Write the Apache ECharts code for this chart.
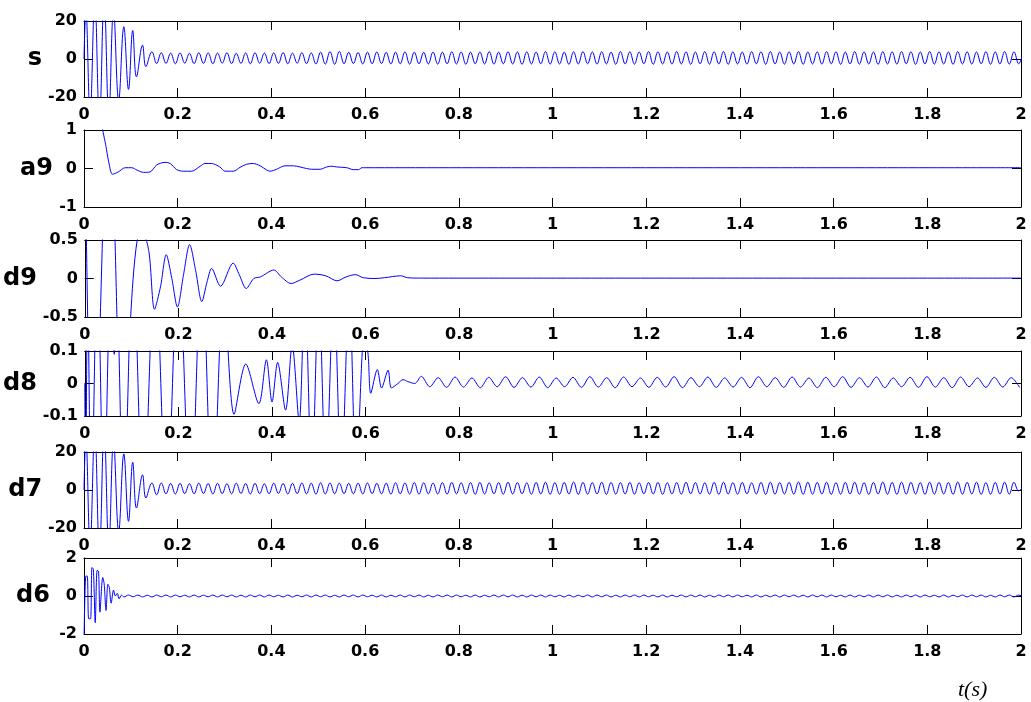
<!DOCTYPE html>
<html>
<head>
<meta charset="utf-8">
<script src="https://cdn.jsdelivr.net/npm/echarts@6/dist/echarts.min.js"></script>
<style>
  html, body { margin: 0; padding: 0; background: #fff; }
  #chart { width: 1031px; height: 702px; }
</style>
</head>
<body>
<div id="chart"></div>
<script>
// Signal s and its wavelet decomposition (approximation a9, details d9..d6), t in seconds.
const panelNames = ['s', 'a9', 'd9', 'd8', 'd7', 'd6'];
const yRanges = [[-20, 20, 20], [-1, 1, 1], [-0.5, 0.5, 0.5], [-0.1, 0.1, 0.1], [-20, 20, 20], [-2, 2, 2]];
const xTicks = [0, 0.2, 0.4, 0.6, 0.8, 1, 1.2, 1.4, 1.6, 1.8, 2];

// s: start-up transient as [t, value] turning points
const sHead = [[0, 0], [0.004, 26], [0.013, -30], [0.023, 32], [0.033, -34], [0.043, 33], [0.053, -30],
  [0.063, 26], [0.074, -22], [0.085, 17], [0.095, -16], [0.104, 15], [0.112, -9.4], [0.125, 7.3],
  [0.132, -4.0], [0.145, 3.8]];
// s: steady 50 Hz turning points, one every 0.01 s from 0.155 s
const sTailStart = 0.155, tailStep = 0.01;
const sTail = [
  -2.4, 3.3, -2.3, 3.1, -2.5, 3.2, -2.2, 3.0, -2.4, 3.3, -2.3, 3.2, -2.5, 3.1, -2.2, 3.3, -2.4, 3.0, -2.3, 3.2,
  -2.5, 3.3, -2.2, 3.1, -2.4, 3.2, -2.3, 3.4, -2.5, 3.1, -2.2, 3.3, -2.4, 3.2, -2.6, 3.6, -2.7, 3.9, -2.8, 4.0,
  -2.5, 3.5, -2.4, 3.4, -2.6, 3.6, -2.5, 3.7, -2.4, 3.5, -2.6, 3.6, -2.5, 3.8, -2.7, 3.6, -2.5, 3.5, -2.6, 3.7,
  -2.7, 3.6, -2.5, 3.8, -2.6, 3.7, -2.8, 3.6, -2.5, 3.7, -2.6, 3.9, -2.7, 3.6, -2.5, 3.8, -2.6, 3.7, -2.8, 3.8,
  -2.6, 3.7, -2.5, 3.9, -2.7, 3.8, -2.6, 3.6, -2.8, 3.8, -2.6, 3.9, -2.5, 3.7, -2.7, 3.8, -2.6, 3.6, -2.8, 3.9,
  -2.6, 3.8, -2.7, 3.7, -2.5, 3.9, -2.8, 3.8, -2.6, 3.7, -2.7, 3.9, -2.6, 3.8, -2.8, 3.7, -2.5, 3.9, -2.7, 3.8,
  -2.6, 3.9, -2.8, 3.8, -2.6, 3.7, -2.7, 3.9, -2.5, 3.8, -2.8, 3.9, -2.6, 3.7, -2.7, 3.8, -2.6, 3.9, -2.8, 3.7,
  -2.6, 3.8, -2.7, 3.9, -2.5, 3.8, -2.8, 3.7, -2.6, 3.9, -2.7, 3.8, -2.6, 3.7, -2.8, 3.9, -2.6, 3.8, -2.7, 3.9,
  -2.5, 3.8, -2.8, 3.7, -2.6, 3.9, -2.7, 3.8, -2.6, 3.7, -2.8, 3.9, -2.6, 3.8, -2.7, 3.7, -2.5, 3.9, -2.8, 3.8,
  -2.6, 3.9, -2.7, 3.8, -2.5, 3.7
];

// a9: approximation, [t, value]
const a9Points = [[0.039, 1.05], [0.047, 0.57], [0.052, 0.22], [0.061, -0.15], [0.073, -0.09], [0.088, 0.02],
  [0.102, 0.02], [0.113, -0.04], [0.127, -0.10], [0.141, -0.09], [0.155, 0.09], [0.173, 0.16], [0.184, 0.13],
  [0.198, -0.03], [0.212, -0.07], [0.230, -0.07], [0.248, 0.06], [0.258, 0.13], [0.272, 0.13], [0.290, 0.04],
  [0.301, -0.07], [0.319, -0.07], [0.333, 0.03], [0.347, 0.11], [0.361, 0.13], [0.376, 0.07], [0.390, -0.04],
  [0.397, -0.07], [0.411, -0.02], [0.429, 0.07], [0.447, 0.07], [0.461, 0.04], [0.475, 0.0], [0.486, -0.02],
  [0.504, -0.02], [0.518, 0.04], [0.529, 0.06], [0.539, 0.04], [0.561, 0.02], [0.575, -0.03], [0.586, -0.03],
  [0.593, 0.02], [0.600, 0.02], [2.0, 0.02]];

// d9: detail level 9, [t, value]
const d9Points = [[0, 2], [0.018, -3], [0.052, 2.5], [0.082, -2.5], [0.098, -0.5], [0.112, 0.5], [0.125, 0.56],
  [0.137, 0.35], [0.149, -0.40], [0.162, -0.10], [0.174, 0.31], [0.186, 0.0], [0.198, -0.37], [0.211, 0.05],
  [0.224, 0.44], [0.237, 0.10], [0.250, -0.30], [0.261, -0.05], [0.271, 0.13], [0.290, -0.10], [0.317, 0.20],
  [0.330, 0.05], [0.345, -0.13], [0.361, 0.0], [0.375, 0.02], [0.404, 0.11], [0.420, 0.02], [0.441, -0.065],
  [0.460, -0.02], [0.490, 0.057], [0.515, 0.035], [0.539, -0.03], [0.558, 0.02], [0.578, 0.05], [0.595, 0.01],
  [0.620, 0.0], [0.640, 0.01], [0.675, 0.035], [0.690, 0.01], [0.720, 0.005], [2.0, 0.005]];

// d8: detail level 8, transient as [t, value]
const d8Head = [[0, 0], [0.002, -0.3], [0.006, 0.3], [0.014, -0.4], [0.027, 0.4], [0.041, -0.4], [0.055, 0.3],
  [0.063, 0.09], [0.068, 0.3], [0.083, -0.4], [0.103, 0.4], [0.125, -0.4], [0.150, 0.4], [0.175, -0.4],
  [0.200, 0.4], [0.226, -0.4], [0.250, 0.4], [0.273, -0.4], [0.297, 0.3], [0.319, -0.095], [0.344, 0.06],
  [0.372, -0.062], [0.388, 0.073], [0.400, -0.057], [0.412, 0.065], [0.429, -0.082], [0.443, 0.12],
  [0.458, -0.12], [0.470, 0.3], [0.485, -0.3], [0.500, 0.3], [0.515, -0.3], [0.532, 0.3], [0.548, -0.3],
  [0.565, 0.3], [0.580, -0.3], [0.597, 0.15], [0.605, 0.093], [0.611, -0.03], [0.625, 0.043], [0.634, -0.014],
  [0.648, 0.041], [0.655, -0.014], [0.669, 0.0], [0.680, 0.012], [0.690, 0.006], [0.705, 0.0]];
// d8: steady ripple turning points every 0.018 s from 0.719 s
const d8TailStart = 0.719, d8Step = 0.018;
const d8Tail = [
  0.022, -0.010, 0.018, -0.012, 0.020, -0.011, 0.017, -0.013, 0.019, -0.010, 0.021, -0.012, 0.018, -0.011,
  0.020, -0.013, 0.017, -0.010, 0.019, -0.012, 0.021, -0.011, 0.018, -0.013, 0.020, -0.010, 0.017, -0.012,
  0.019, -0.011, 0.021, -0.013, 0.018, -0.010, 0.020, -0.012, 0.017, -0.011, 0.019, -0.013, 0.021, -0.010,
  0.018, -0.012, 0.020, -0.011, 0.017, -0.013, 0.019, -0.010, 0.021, -0.012, 0.018, -0.011, 0.020, -0.013,
  0.017, -0.010, 0.019, -0.012, 0.021, -0.011, 0.018, -0.013, 0.020, -0.010, 0.017, -0.012, 0.019, -0.011,
  0.018, -0.012
];

// d7: detail level 7, transient then steady 50 Hz turning points from 0.155 s
const d7Head = [[0, 0], [0.004, 28], [0.013, -30], [0.023, 32], [0.033, -34], [0.043, 33], [0.053, -30],
  [0.063, 26], [0.074, -22], [0.085, 19], [0.095, -16.5], [0.104, 14.6], [0.112, -9.5], [0.125, 8.0],
  [0.132, -4.2], [0.145, 3.7]];
const d7Tail = [
  -2.5, 3.7, -2.0, 3.4, -2.1, 3.5, -1.9, 3.3, -2.0, 3.6, -1.8, 3.4, -2.1, 3.5, -1.9, 3.3, -2.0, 3.6, -1.8, 3.4,
  -2.1, 3.5, -1.9, 3.3, -2.0, 3.6, -1.8, 3.4, -2.1, 3.5, -1.9, 3.7, -2.0, 3.6, -2.2, 3.8, -2.1, 3.7, -2.0, 3.6,
  -1.9, 3.5, -2.0, 3.6, -2.1, 3.7, -1.9, 3.5, -2.0, 3.6, -2.2, 3.8, -2.0, 3.7, -2.1, 3.9, -2.2, 3.8, -2.0, 3.7,
  -2.1, 3.9, -2.2, 4.0, -2.0, 3.8, -2.1, 3.9, -2.3, 4.0, -2.1, 3.8, -2.0, 3.9, -2.2, 4.1, -2.1, 3.9, -2.0, 3.8,
  -2.2, 4.0, -2.1, 4.1, -2.3, 3.9, -2.2, 4.0, -2.1, 4.2, -2.3, 4.0, -2.2, 3.9, -2.1, 4.1, -2.3, 4.0, -2.2, 3.9,
  -2.1, 4.0, -2.2, 3.8, -2.0, 3.9, -2.1, 4.0, -2.3, 3.8, -2.1, 3.9, -2.2, 4.1, -2.0, 3.9, -2.1, 3.8, -2.2, 4.0,
  -2.3, 4.1, -2.1, 3.9, -2.2, 4.0, -2.0, 3.8, -2.1, 4.0, -2.3, 4.1, -2.2, 3.9, -2.1, 4.0, -2.2, 4.2, -2.3, 4.1,
  -2.2, 4.0, -2.1, 4.1, -2.3, 3.9, -2.2, 4.0, -2.1, 4.1, -2.2, 3.9, -2.3, 4.0, -2.1, 4.2, -2.2, 4.0, -2.3, 4.1,
  -2.2, 4.0, -2.1, 3.9, -2.3, 4.1, -2.2, 4.0, -2.1, 3.9, -2.3, 4.2, -2.2, 4.0, -2.1, 4.1, -2.3, 3.9, -2.2, 4.0,
  -2.1, 4.1, -2.2, 4.0, -0.5, 2.0
];

// d6: detail level 6, transient as [t, value], then small ripple every 0.01 s from 0.085 s
const d6Head = [[0, -2.5], [0.004, 1.05], [0.007, 1.05], [0.010, -1.2], [0.014, -1.2], [0.017, 1.5], [0.020, 1.4],
  [0.024, -1.4], [0.028, 1.35], [0.031, 1.3], [0.034, -0.85], [0.040, 0.97], [0.043, 0.65], [0.047, -0.76],
  [0.051, 0.62], [0.054, 0.45], [0.058, -0.38], [0.063, 0.31], [0.067, 0.0], [0.071, 0.14], [0.075, -0.15],
  [0.080, 0.05]];
const d6TailStart = 0.085;
const d6Tail = [
  -0.05, 0.05, -0.04, 0.05, -0.05, 0.04, -0.05, 0.05, -0.04, 0.05, -0.05, 0.05, -0.04, 0.04, -0.05, 0.05,
  -0.05, 0.04, -0.04, 0.05, -0.05, 0.05, -0.04, 0.05, -0.05, 0.04, -0.05, 0.05, -0.04, 0.05, -0.05, 0.05,
  -0.04, 0.04, -0.05, 0.05, -0.05, 0.04, -0.04, 0.05, -0.05, 0.05, -0.04, 0.05, -0.05, 0.04, -0.05, 0.05,
  -0.04, 0.05, -0.05, 0.05, -0.04, 0.04, -0.05, 0.05, -0.05, 0.04, -0.04, 0.05, -0.05, 0.05, -0.04, 0.05,
  -0.05, 0.04, -0.05, 0.05, -0.04, 0.05, -0.05, 0.05, -0.04, 0.04, -0.05, 0.05, -0.05, 0.04, -0.04, 0.05,
  -0.05, 0.05, -0.04, 0.05, -0.05, 0.04, -0.05, 0.05, -0.04, 0.05, -0.05, 0.05, -0.04, 0.04, -0.05, 0.05,
  -0.05, 0.04, -0.04, 0.05, -0.05, 0.05, -0.04, 0.05, -0.05, 0.04, -0.05, 0.05, -0.04, 0.05, -0.05, 0.05,
  -0.04, 0.04, -0.05, 0.05, -0.05, 0.04, -0.04, 0.05, -0.05, 0.05, -0.04, 0.05, -0.05, 0.04, -0.05, 0.05,
  -0.04, 0.05, -0.05, 0.05, -0.04, 0.04, -0.05, 0.05, -0.05, 0.04, -0.04, 0.05, -0.05, 0.05, -0.04, 0.05,
  -0.05, 0.04, -0.05, 0.05, -0.04, 0.05, -0.05, 0.05, -0.04, 0.04, -0.05, 0.05, -0.05, 0.04, -0.04, 0.05,
  -0.05, 0.05, -0.04, 0.05, -0.05, 0.04, -0.05, 0.05, -0.04, 0.05, -0.05, 0.05, -0.04, 0.04, -0.05, 0.05,
  -0.05, 0.04, -0.04, 0.05, -0.05, 0.05, -0.04, 0.05, -0.05, 0.04, -0.05, 0.05, -0.04, 0.05, -0.05, 0.05,
  -0.04
];

// Build [t, value] lists from a head of turning points and an evenly stepped tail
function joinSamples(head, tail, start, step) {
  const out = head.map(p => [p[0], p[1]]);
  if (tail) tail.forEach((v, i) => out.push([+(start + i * step).toFixed(4), v]));
  return out;
}

const seriesData = [
  joinSamples(sHead, sTail, sTailStart, tailStep),
  joinSamples(a9Points),
  joinSamples(d9Points),
  joinSamples(d8Head, d8Tail, d8TailStart, d8Step),
  joinSamples(d7Head, d7Tail, sTailStart, tailStep),
  joinSamples(d6Head, d6Tail, d6TailStart, tailStep)
];
const smoothness = [0.4, 0.3, 0.3, 0.3, 0.4, 0.3];

// Panel frames (pixels)
const panelTop = [21, 130, 240, 351, 452, 558];
const panelHeight = [76, 77, 77, 65, 76, 76];
const nameGaps = [42, 31, 41, 42, 39, 34];

const tickFont = { fontFamily: 'DejaVu Sans', fontWeight: 'bold', fontSize: 16, color: '#000' };
const frameLine = { show: true, onZero: false, lineStyle: { color: '#000', width: 1 } };
const innerTick = { show: true, inside: true, length: 9, lineStyle: { color: '#000', width: 1 } };

const grids = [], xAxes = [], yAxes = [], series = [];
panelNames.forEach((name, i) => {
  grids.push({ left: 84, width: 937, top: panelTop[i], height: panelHeight[i] });
  // bottom axis with labels, top axis with ticks only
  xAxes.push({
    gridIndex: i, type: 'value', min: 0, max: 2, interval: 0.2, position: 'bottom',
    axisLine: frameLine, axisTick: innerTick, splitLine: { show: false },
    axisLabel: Object.assign({ margin: 10, formatter: v => String(+v.toFixed(1)) }, tickFont)
  });
  xAxes.push({
    gridIndex: i, type: 'value', min: 0, max: 2, interval: 0.2, position: 'top',
    axisLine: frameLine, axisTick: innerTick, splitLine: { show: false }, axisLabel: { show: false }
  });
  const r = yRanges[i];
  yAxes.push({
    gridIndex: i, type: 'value', min: r[0], max: r[1], interval: r[2], position: 'left',
    axisLine: frameLine, axisTick: innerTick, splitLine: { show: false },
    axisLabel: Object.assign({ margin: 7, formatter: v => String(+v.toFixed(2)) }, tickFont),
    name: name, nameLocation: 'middle', nameRotate: 0, nameGap: nameGaps[i],
    nameTextStyle: { fontFamily: 'DejaVu Sans', fontWeight: 'bold', fontSize: 24, color: '#000' }
  });
  yAxes.push({
    gridIndex: i, type: 'value', min: r[0], max: r[1], interval: r[2], position: 'right',
    axisLine: frameLine, axisTick: innerTick, splitLine: { show: false }, axisLabel: { show: false }
  });
  series.push({
    type: 'line', xAxisIndex: 2 * i, yAxisIndex: 2 * i, data: seriesData[i],
    showSymbol: false, clip: true, smooth: smoothness[i],
    lineStyle: { color: '#0000ff', width: 1 }
  });
});

const chart = echarts.init(document.getElementById('chart'), null, { renderer: 'canvas' });
chart.setOption({
  animation: false,
  backgroundColor: '#fff',
  grid: grids, xAxis: xAxes, yAxis: yAxes, series: series,
  graphic: [{
    type: 'text', left: 958, top: 679,
    style: { text: 't(s)', font: 'italic 22px "Liberation Serif"', fill: '#000' }
  }]
});
</script>
</body>
</html>
